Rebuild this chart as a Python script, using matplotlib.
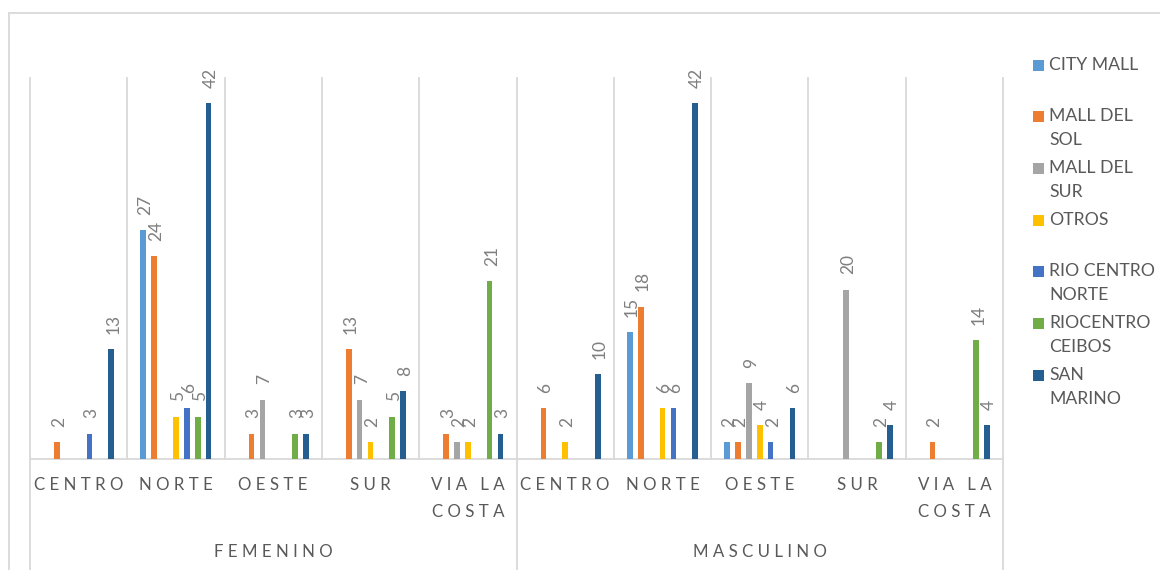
import matplotlib
matplotlib.use("Agg")
import matplotlib.pyplot as plt
from matplotlib.transforms import blended_transform_factory
from matplotlib.lines import Line2D
from matplotlib.patches import Rectangle
import numpy as np

plt.rcParams['font.family'] = ['Lato', 'DejaVu Sans']

groups = ["FEMENINO", "MASCULINO"]
zones = ["CENTRO", "NORTE", "OESTE", "SUR", "VIA LA\nCOSTA"]
series = ["CITY MALL", "MALL DEL SOL", "MALL DEL SUR", "OTROS",
          "RIO CENTRO NORTE", "RIOCENTRO CEIBOS", "SAN MARINO"]
legend_labels = ["CITY MALL", "MALL DEL\nSOL", "MALL DEL\nSUR", "OTROS",
                 "RIO CENTRO\nNORTE", "RIOCENTRO\nCEIBOS", "SAN\nMARINO"]
colors = ["#5B9BD5", "#ED7D31", "#A5A5A5", "#FFC000",
          "#4472C4", "#70AD47", "#255E91"]

# values per series over: FEM(CENTRO,NORTE,OESTE,SUR,VIA) + MASC(CENTRO,NORTE,OESTE,SUR,VIA); 0 = no bar
city_mall        = [0, 27, 0, 0, 0,   0, 15, 2, 0, 0]
mall_del_sol     = [2, 24, 3, 13, 3,  6, 18, 2, 0, 2]
mall_del_sur     = [0, 0, 7, 7, 2,    0, 0, 9, 20, 0]
otros            = [0, 5, 0, 2, 2,    2, 6, 4, 0, 0]
rio_centro_norte = [3, 6, 0, 0, 0,    0, 6, 2, 0, 0]
riocentro_ceibos = [0, 5, 3, 5, 21,   0, 0, 0, 2, 14]
san_marino       = [13, 42, 3, 8, 3,  10, 42, 6, 4, 4]

values = [city_mall, mall_del_sol, mall_del_sur, otros,
          rio_centro_norte, riocentro_ceibos, san_marino]

W, H = 1160, 570
fig = plt.figure(figsize=(W / 100, H / 100), dpi=100)
x0, x1, yb, yt = 30, 1003, 459, 78
ax = fig.add_axes([x0 / W, 1 - yb / H, (x1 - x0) / W, (yb - yt) / H])

ncat = len(groups) * len(zones)
x = np.arange(ncat)
slot = 0.112
bw = 0.0585
grid_c = "#D9D9D9"
label_c = "#7F7F7F"
text_c = "#595959"

for j, (vals, col) in enumerate(zip(values, colors)):
    pos = x + (j - 3) * slot
    for xi, v in zip(pos, vals):
        if v <= 0:
            continue
        ax.bar(xi, v, width=bw, color=col, linewidth=0, zorder=3)
        ax.annotate(str(v), (xi, v), xytext=(1.5, 11), textcoords="offset points",
                    rotation=90, ha="center", va="bottom", fontsize=12.5,
                    color=label_c, zorder=4, annotation_clip=False)

ax.set_xlim(-0.5, ncat - 0.5)
ax.set_ylim(0, 45)
ax.axis("off")

# category separators
for b in np.arange(-0.5, ncat, 1.0):
    ax.plot([b, b], [0, 45], color=grid_c, lw=1.3, zorder=1, clip_on=False)
# baseline
ax.plot([-0.5, ncat - 0.5], [0, 0], color=grid_c, lw=1.3, zorder=2, clip_on=False)
# group separators extending down
tr_low = blended_transform_factory(ax.transData, fig.transFigure)
for b in [-0.5, len(zones) - 0.5, ncat - 0.5]:
    ax.plot([b, b], [1 - yb / H, 0], color=grid_c, lw=1.3, transform=tr_low, clip_on=False)


def spaced(s):
    return "\n".join(" ".join(line) for line in s.split("\n"))


for gi, g in enumerate(groups):
    for zi, z in enumerate(zones):
        ax.text(gi * len(zones) + zi, 1 - 477 / H, spaced(z), transform=tr_low,
                ha="center", va="top", fontsize=12.2, color=text_c, linespacing=1.85)
    ax.text(gi * len(zones) + (len(zones) - 1) / 2, 1 - 552 / H, spaced(g), transform=tr_low,
            ha="center", va="center", fontsize=12.2, color=text_c)

# outer chart border
fig.add_artist(Line2D([9 / W, 1], [1 - 13 / H, 1 - 13 / H], color=grid_c, lw=1.3))
fig.add_artist(Line2D([9 / W, 9 / W], [0, 1 - 13 / H], color=grid_c, lw=1.3))

# legend
for i, (lab, col) in enumerate(zip(legend_labels, colors)):
    yc = 65 + i * 51.7
    fig.add_artist(Rectangle(((1033) / W, 1 - (yc + 5.5) / H), 11 / W, 11 / H,
                             transform=fig.transFigure, color=col, linewidth=0))
    fig.text(1049 / W, 1 - (yc - 8.5) / H, lab, ha="left", va="top", fontsize=12.7,
             color=text_c, linespacing=1.6)

fig.savefig("out.png", dpi=100)
